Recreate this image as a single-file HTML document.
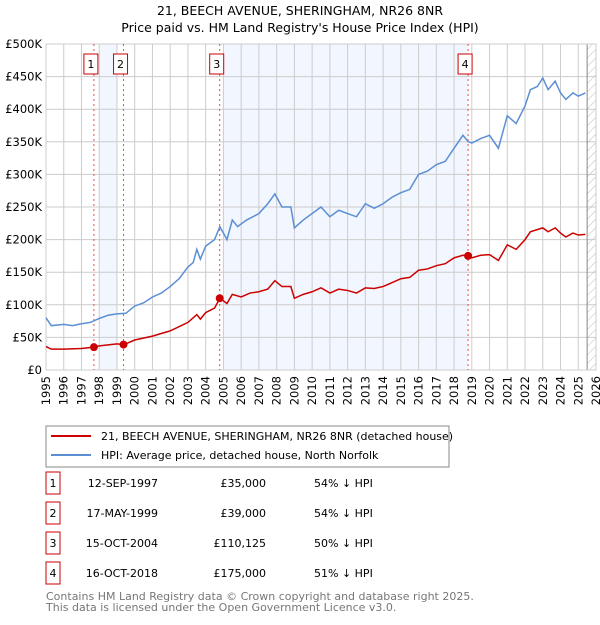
<!DOCTYPE html>
<html><head><meta charset="utf-8"><style>
body{margin:0;background:#fff;font-family:"Liberation Sans","DejaVu Sans",sans-serif;}
svg text{font-family:"DejaVu Sans","Liberation Sans",sans-serif;}
</style></head><body>
<svg id="c" width="600" height="620" xmlns="http://www.w3.org/2000/svg">
<text x="300" y="15" text-anchor="middle" font-size="12.5">21, BEECH AVENUE, SHERINGHAM, NR26 8NR</text>
<text x="300" y="32" text-anchor="middle" font-size="12.5">Price paid vs. HM Land Registry's House Price Index (HPI)</text>
<g id="plot"></g>
<g>
<rect x="46" y="426" width="403" height="41" fill="#fff" stroke="#888"/>
<line x1="51" y1="436" x2="91" y2="436" stroke="#cc0000" stroke-width="2"/>
<text x="101" y="440" font-size="11">21, BEECH AVENUE, SHERINGHAM, NR26 8NR (detached house)</text>
<line x1="51" y1="455" x2="91" y2="455" stroke="#5b8fd4" stroke-width="2"/>
<text x="101" y="459" font-size="11">HPI: Average price, detached house, North Norfolk</text>
</g>
<g id="table"></g>
<text x="46" y="600" font-size="11" fill="#777">Contains HM Land Registry data © Crown copyright and database right 2025.</text>
<text x="46" y="611" font-size="11" fill="#777">This data is licensed under the Open Government Licence v3.0.</text>
</svg>
<script>
const yTicks=[0,50,100,150,200,250,300,350,400,450,500];
const xYears=[1995,1996,1997,1998,1999,2000,2001,2002,2003,2004,2005,2006,2007,2008,2009,2010,2011,2012,2013,2014,2015,2016,2017,2018,2019,2020,2021,2022,2023,2024,2025,2026];
const hpiT=[1995,1995.3,1996,1996.5,1997,1997.5,1998,1998.5,1999,1999.5,2000,2000.5,2001,2001.5,2002,2002.5,2003,2003.3,2003.5,2003.7,2004,2004.5,2004.8,2005.2,2005.5,2005.8,2006.3,2006.8,2007,2007.5,2007.9,2008.3,2008.8,2009,2009.5,2010,2010.5,2011,2011.5,2012,2012.5,2013,2013.5,2014,2014.5,2015,2015.5,2016,2016.5,2017,2017.5,2018,2018.5,2018.8,2019,2019.5,2020,2020.5,2021,2021.5,2022,2022.3,2022.7,2023,2023.3,2023.7,2024,2024.3,2024.7,2025,2025.4];
const hpiV=[80,68,70,68,71,73,79,84,86,87,98,103,112,118,128,140,158,165,185,170,190,200,220,200,230,220,230,237,240,255,270,250,250,218,230,240,250,235,245,240,235,255,248,255,265,272,277,300,305,315,320,340,360,350,348,355,360,340,390,378,405,430,435,448,430,443,425,415,425,420,425];
const redT=[1995,1995.3,1996,1997,1997.7,1998,1999,1999.4,2000,2001,2002,2003,2003.5,2003.7,2004,2004.5,2004.8,2005.2,2005.5,2006,2006.5,2007,2007.5,2007.9,2008.3,2008.8,2009,2009.5,2010,2010.5,2011,2011.5,2012,2012.5,2013,2013.5,2014,2014.5,2015,2015.5,2016,2016.5,2017,2017.5,2018,2018.5,2018.8,2019,2019.5,2020,2020.5,2021,2021.5,2022,2022.3,2023,2023.3,2023.7,2024,2024.3,2024.7,2025,2025.4];
const redV=[36,32,32,33,35,37,40,39,46,52,60,73,85,78,88,95,110,102,116,112,118,120,124,137,128,128,110,116,120,126,118,124,122,118,126,125,128,134,140,142,153,155,160,163,172,176,175,172,176,177,168,192,185,200,212,218,212,218,210,204,210,207,208];
const saleT=[1997.7,1999.37,2004.79,2018.79];
const saleV=[35,39,110.125,175];
const saleLabels=["1","2","3","4"];
const saleDates=["12-SEP-1997","17-MAY-1999","15-OCT-2004","16-OCT-2018"];
const salePrices=["£35,000","£39,000","£110,125","£175,000"];
const saleDiff=["54% ↓ HPI","54% ↓ HPI","50% ↓ HPI","51% ↓ HPI"];

const NS="http://www.w3.org/2000/svg";
const L=46,R=596,T=44,B=370;
const X=t=>L+(t-1995)/(2026-1995)*(R-L);
const Y=v=>B-v/500*(B-T);
const g=document.getElementById('plot');
function mk(tag,a,p){const e=document.createElementNS(NS,tag);for(const k in a)e.setAttribute(k,a[k]);(p||g).appendChild(e);return e;}
let e;
e=mk('rect',{x:X(1998),y:T,width:X(1999)-X(1998),height:B-T,fill:'#f2f6fe'});


e=mk('rect',{x:X(2005),y:T,width:X(saleT[3])-X(2005),height:B-T,fill:'#f2f6fe'});


yTicks.forEach(v=>{mk('line',{x1:L,x2:R,y1:Y(v),y2:Y(v),stroke:'#ccc'});
e=mk('text',{x:L-4,y:Y(v)+4,'text-anchor':'end','font-size':'11.5'});e.textContent='£'+(v?v+'K':'0');

});
xYears.forEach(yr=>{mk('line',{x1:X(yr),x2:X(yr),y1:T,y2:B,stroke:'#ccc'});
e=mk('text',{x:X(yr)+4,y:B+6,'text-anchor':'end','font-size':'11.5',transform:`rotate(-90 ${X(yr)+4} ${B+6})`});e.textContent=yr;

});
const d=mk('defs',{});const pat=mk('pattern',{id:'h',width:6,height:6,patternUnits:'userSpaceOnUse',patternTransform:'rotate(45)'},d);
mk('line',{x1:0,y1:0,x2:0,y2:6,stroke:'#bbb'},pat);
e=mk('rect',{x:X(2025.5),y:T,width:R-X(2025.5),height:B-T,fill:'url(#h)'});


mk('line',{x1:X(2025.5),x2:X(2025.5),y1:T,y2:B,stroke:'#888'});
mk('rect',{x:L,y:T,width:R-L,height:B-T,fill:'none',stroke:'#ccc'});
saleT.forEach((t,i)=>{mk('line',{x1:X(t),x2:X(t),y1:T,y2:B,stroke:'#e05050','stroke-dasharray':'2,3'});
e=mk('rect',{x:X(t)-10,y:54,width:14,height:20,fill:'#fff',stroke:'#cc0000'});


e=mk('text',{x:X(t)-3,y:68,'text-anchor':'middle','font-size':'11'});e.textContent=saleLabels[i];});
e=mk('polyline',{points:hpiT.map((t,i)=>X(t)+','+Y(hpiV[i])).join(' '),fill:'none',stroke:'#5b8fd4','stroke-width':1.5});


e=mk('polyline',{points:redT.map((t,i)=>X(t)+','+Y(redV[i])).join(' '),fill:'none',stroke:'#cc0000','stroke-width':1.5});


saleT.forEach((t,i)=>{e=mk('circle',{cx:X(t),cy:Y(saleV[i]),r:4,fill:'#cc0000'});

});
const tb=document.getElementById('table');
saleT.forEach((t,i)=>{const y=483+i*30;
mk('rect',{x:46,y:y-11,width:14,height:22,fill:'#fff',stroke:'#cc0000'},tb);
let t1=mk('text',{x:53,y:y+4,'text-anchor':'middle','font-size':'11'},tb);t1.textContent=saleLabels[i];
t1=mk('text',{x:158,y:y+4,'text-anchor':'end','font-size':'11'},tb);t1.textContent=saleDates[i];


t1=mk('text',{x:266,y:y+4,'text-anchor':'end','font-size':'11'},tb);t1.textContent=salePrices[i];


t1=mk('text',{x:314,y:y+4,'font-size':'11'},tb);t1.textContent=saleDiff[i];

});
</script>
</body></html>
